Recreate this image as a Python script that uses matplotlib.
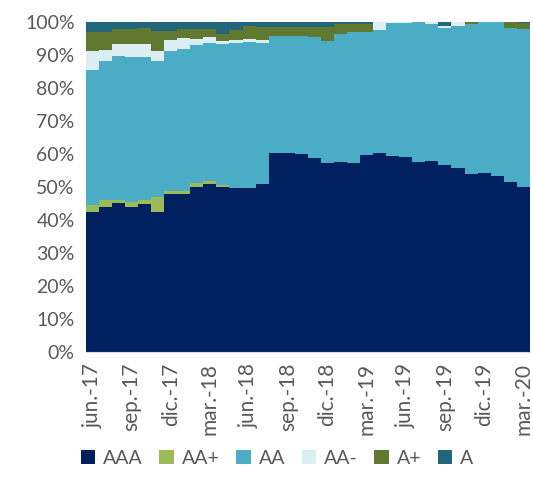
import matplotlib
matplotlib.use("Agg")
import matplotlib.pyplot as plt
from matplotlib.patches import Patch
import numpy as np

plt.rcParams['font.family'] = ['Lato', 'DejaVu Sans']

months = ["jun.-17", "jul.-17", "ago.-17", "sep.-17", "oct.-17", "nov.-17", "dic.-17",
          "ene.-18", "feb.-18", "mar.-18", "abr.-18", "may.-18", "jun.-18", "jul.-18",
          "ago.-18", "sep.-18", "oct.-18", "nov.-18", "dic.-18", "ene.-19", "feb.-19",
          "mar.-19", "abr.-19", "may.-19", "jun.-19", "jul.-19", "ago.-19", "sep.-19",
          "oct.-19", "nov.-19", "dic.-19", "ene.-20", "feb.-20", "mar.-20"]

AAA = [42.3, 44.0, 45.0, 44.0, 44.8, 42.2, 47.7, 47.7, 49.8, 50.8, 49.8, 49.7, 49.7, 50.8,
       60.3, 60.3, 59.9, 58.7, 57.2, 57.6, 57.3, 59.6, 60.1, 59.2, 59.0, 57.4, 57.7, 56.6,
       55.6, 53.9, 54.1, 53.3, 51.5, 49.8]
AA_plus = [2.1, 1.9, 1.1, 1.5, 1.3, 4.6, 1.1, 1.1, 1.3, 0.9, 0.7, 0, 0, 0,
           0, 0, 0, 0, 0, 0, 0, 0, 0, 0, 0, 0, 0, 0, 0, 0, 0, 0, 0, 0]
AA = [41.1, 42.1, 43.6, 43.7, 43.3, 41.2, 42.4, 43.0, 41.7, 41.8, 42.6, 43.7, 44.1, 42.6,
      35.5, 35.5, 35.9, 36.6, 36.9, 38.6, 39.5, 37.2, 37.3, 40.3, 40.5, 42.4, 41.7, 41.4,
      43.2, 45.5, 45.9, 46.7, 46.6, 48.1]
AA_minus = [5.7, 3.4, 3.5, 4.0, 3.8, 3.1, 3.3, 3.3, 2.0, 2.0, 0.9, 1.1, 1.0, 1.1,
            0, 0, 0, 0, 0, 0, 0, 0, 2.6, 0.5, 0.5, 0.2, 0.6, 0.6, 1.2, 0, 0, 0, 0, 0]
A_plus = [5.8, 5.5, 4.7, 4.7, 4.9, 6.1, 2.7, 2.8, 2.9, 2.3, 2.3, 3.1, 3.9, 3.9,
          2.6, 2.6, 2.6, 3.1, 4.3, 3.2, 2.6, 2.6, 0, 0, 0, 0, 0, 0, 0, 0.6, 0, 0, 1.9, 1.7]
A = [3.0, 3.1, 2.1, 2.1, 1.9, 2.8, 2.8, 2.1, 2.3, 2.2, 3.7, 2.4, 1.3, 1.6,
     1.6, 1.6, 1.6, 1.6, 1.6, 0.6, 0.6, 0.6, 0, 0, 0, 0, 0, 1.4, 0, 0, 0, 0, 0, 0.4]

series_names = ["AAA", "AA+", "AA", "AA-", "A+", "A"]
series = [AAA, AA_plus, AA, AA_minus, A_plus, A]
colors = ["#002060", "#9BBB59", "#4BACC6", "#DAEEF3", "#617830", "#21667A"]

fig = plt.figure(figsize=(5.33, 4.92), dpi=100)
ax = fig.add_axes([0.161, 0.285, 0.833, 0.671])

x = np.arange(len(months))
bottom = np.zeros(len(months))
for name, vals, c in zip(series_names, series, colors):
    vals = np.array(vals, dtype=float)
    ax.bar(x, vals, bottom=bottom, width=1.0, color=c, linewidth=0, label=name)
    bottom += vals

ax.set_xlim(-0.5, len(months) - 0.5)
ax.set_ylim(0, 100)
ax.set_yticks(np.arange(0, 101, 10))
ax.set_yticklabels([f"{v}%" for v in range(0, 101, 10)])
ax.set_xticks(x[::3])
ax.set_xticklabels(months[::3], rotation=90)
ax.tick_params(axis='both', length=0, colors="#595959")
ax.tick_params(axis='y', pad=8, labelsize=14)
ax.tick_params(axis='x', pad=8, labelsize=15)
for s in ["top", "right", "left"]:
    ax.spines[s].set_visible(False)
ax.spines["bottom"].set_color("#D9D9D9")

handles = [Patch(facecolor=c, label=n) for n, c in zip(series_names, colors)]
fig.legend(handles=handles, loc="center", bbox_to_anchor=(0.52, 0.068), ncol=6,
           frameon=False, fontsize=14, handlelength=0.75, handleheight=0.75,
           handletextpad=0.4, columnspacing=0.85, labelcolor="#595959")

fig.savefig("out.png", dpi=100)
